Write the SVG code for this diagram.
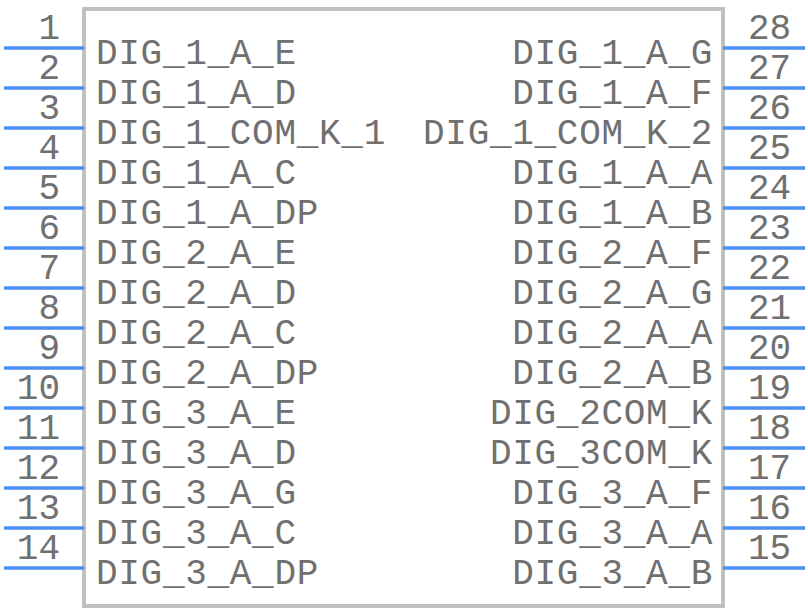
<svg xmlns="http://www.w3.org/2000/svg" width="808" height="612" viewBox="0 0 808 612">
<style>
.body{fill:#ffffff;stroke:#c0c0c0;stroke-width:4}
.pin{stroke:#4a8ff0;stroke-width:3.5}
text{font-family:"Liberation Mono","Courier New",monospace;font-size:36px;fill:#707070}
.l{text-anchor:start;letter-spacing:0.7px}
.r{text-anchor:end;letter-spacing:0.7px}
.nl{text-anchor:end}
.nr{text-anchor:start}
</style>
<rect width="808" height="612" fill="#ffffff"/>
<g id="body"><rect class="body" x="84" y="9" width="639" height="597"/></g>
<g id="connectors">
<line class="pin" x1="4" y1="48" x2="84" y2="48"/>
<line class="pin" x1="4" y1="88" x2="84" y2="88"/>
<line class="pin" x1="4" y1="128" x2="84" y2="128"/>
<line class="pin" x1="4" y1="168" x2="84" y2="168"/>
<line class="pin" x1="4" y1="208" x2="84" y2="208"/>
<line class="pin" x1="4" y1="248" x2="84" y2="248"/>
<line class="pin" x1="4" y1="288" x2="84" y2="288"/>
<line class="pin" x1="4" y1="328" x2="84" y2="328"/>
<line class="pin" x1="4" y1="368" x2="84" y2="368"/>
<line class="pin" x1="4" y1="408" x2="84" y2="408"/>
<line class="pin" x1="4" y1="448" x2="84" y2="448"/>
<line class="pin" x1="4" y1="488" x2="84" y2="488"/>
<line class="pin" x1="4" y1="528" x2="84" y2="528"/>
<line class="pin" x1="4" y1="568" x2="84" y2="568"/>
<line class="pin" x1="723" y1="48" x2="805" y2="48"/>
<line class="pin" x1="723" y1="88" x2="805" y2="88"/>
<line class="pin" x1="723" y1="128" x2="805" y2="128"/>
<line class="pin" x1="723" y1="168" x2="805" y2="168"/>
<line class="pin" x1="723" y1="208" x2="805" y2="208"/>
<line class="pin" x1="723" y1="248" x2="805" y2="248"/>
<line class="pin" x1="723" y1="288" x2="805" y2="288"/>
<line class="pin" x1="723" y1="328" x2="805" y2="328"/>
<line class="pin" x1="723" y1="368" x2="805" y2="368"/>
<line class="pin" x1="723" y1="408" x2="805" y2="408"/>
<line class="pin" x1="723" y1="448" x2="805" y2="448"/>
<line class="pin" x1="723" y1="488" x2="805" y2="488"/>
<line class="pin" x1="723" y1="528" x2="805" y2="528"/>
<line class="pin" x1="723" y1="568" x2="805" y2="568"/>
</g>
<g id="left-pins">
<g id="pin1"><text class="nl" x="60" y="39">1</text><text class="l" x="96" y="64">DIG_1_A_E</text></g>
<g id="pin2"><text class="nl" x="60" y="79">2</text><text class="l" x="96" y="104">DIG_1_A_D</text></g>
<g id="pin3"><text class="nl" x="60" y="119">3</text><text class="l" x="96" y="144">DIG_1_COM_K_1</text></g>
<g id="pin4"><text class="nl" x="60" y="159">4</text><text class="l" x="96" y="184">DIG_1_A_C</text></g>
<g id="pin5"><text class="nl" x="60" y="199">5</text><text class="l" x="96" y="224">DIG_1_A_DP</text></g>
<g id="pin6"><text class="nl" x="60" y="239">6</text><text class="l" x="96" y="264">DIG_2_A_E</text></g>
<g id="pin7"><text class="nl" x="60" y="279">7</text><text class="l" x="96" y="304">DIG_2_A_D</text></g>
<g id="pin8"><text class="nl" x="60" y="319">8</text><text class="l" x="96" y="344">DIG_2_A_C</text></g>
<g id="pin9"><text class="nl" x="60" y="359">9</text><text class="l" x="96" y="384">DIG_2_A_DP</text></g>
<g id="pin10"><text class="nl" x="60" y="399">10</text><text class="l" x="96" y="424">DIG_3_A_E</text></g>
<g id="pin11"><text class="nl" x="60" y="439">11</text><text class="l" x="96" y="464">DIG_3_A_D</text></g>
<g id="pin12"><text class="nl" x="60" y="479">12</text><text class="l" x="96" y="504">DIG_3_A_G</text></g>
<g id="pin13"><text class="nl" x="60" y="519">13</text><text class="l" x="96" y="544">DIG_3_A_C</text></g>
<g id="pin14"><text class="nl" x="60" y="559">14</text><text class="l" x="96" y="584">DIG_3_A_DP</text></g>
</g>
<g id="right-pins">
<g id="pin28"><text class="nr" x="748" y="39">28</text><text class="r" x="713" y="64">DIG_1_A_G</text></g>
<g id="pin27"><text class="nr" x="748" y="79">27</text><text class="r" x="713" y="104">DIG_1_A_F</text></g>
<g id="pin26"><text class="nr" x="748" y="119">26</text><text class="r" x="713" y="144">DIG_1_COM_K_2</text></g>
<g id="pin25"><text class="nr" x="748" y="159">25</text><text class="r" x="713" y="184">DIG_1_A_A</text></g>
<g id="pin24"><text class="nr" x="748" y="199">24</text><text class="r" x="713" y="224">DIG_1_A_B</text></g>
<g id="pin23"><text class="nr" x="748" y="239">23</text><text class="r" x="713" y="264">DIG_2_A_F</text></g>
<g id="pin22"><text class="nr" x="748" y="279">22</text><text class="r" x="713" y="304">DIG_2_A_G</text></g>
<g id="pin21"><text class="nr" x="748" y="319">21</text><text class="r" x="713" y="344">DIG_2_A_A</text></g>
<g id="pin20"><text class="nr" x="748" y="359">20</text><text class="r" x="713" y="384">DIG_2_A_B</text></g>
<g id="pin19"><text class="nr" x="748" y="399">19</text><text class="r" x="713" y="424">DIG_2COM_K</text></g>
<g id="pin18"><text class="nr" x="748" y="439">18</text><text class="r" x="713" y="464">DIG_3COM_K</text></g>
<g id="pin17"><text class="nr" x="748" y="479">17</text><text class="r" x="713" y="504">DIG_3_A_F</text></g>
<g id="pin16"><text class="nr" x="748" y="519">16</text><text class="r" x="713" y="544">DIG_3_A_A</text></g>
<g id="pin15"><text class="nr" x="748" y="559">15</text><text class="r" x="713" y="584">DIG_3_A_B</text></g>
</g>
</svg>
